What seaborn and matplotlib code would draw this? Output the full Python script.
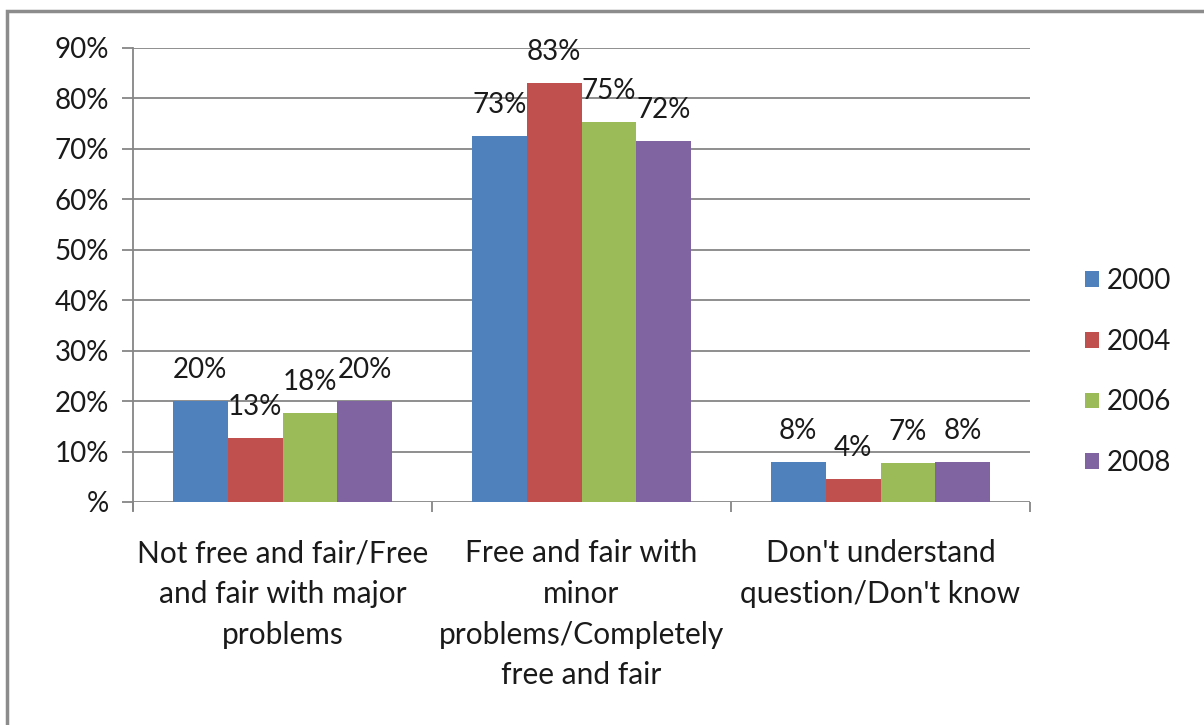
import pandas as pd
import matplotlib.pyplot as plt
import seaborn as sns
from matplotlib.patches import Rectangle

categories = ["Not free and fair/Free\nand fair with major\nproblems",
              "Free and fair with\nminor\nproblems/Completely\nfree and fair",
              "Don't understand\nquestion/Don't know"]
years = ["2000", "2004", "2006", "2008"]
v2000 = [20.0, 72.6, 8.0]
v2004 = [12.7, 83.1, 4.6]
v2006 = [17.6, 75.3, 7.8]
v2008 = [20.0, 71.6, 8.0]
lab2000 = ["20%", "73%", "8%"]
lab2004 = ["13%", "83%", "4%"]
lab2006 = ["18%", "75%", "7%"]
lab2008 = ["20%", "72%", "8%"]
yticks = [0, 10, 20, 30, 40, 50, 60, 70, 80, 90]
ytick_labels = ["%", "10%", "20%", "30%", "40%", "50%", "60%", "70%", "80%", "90%"]
colors = ["#4F81BD", "#C0504D", "#9BBB59", "#8064A2"]

rows = []
for yr, vals in zip(years, [v2000, v2004, v2006, v2008]):
    for c, v in zip(categories, vals):
        rows.append({"cat": c, "year": yr, "val": v})
df = pd.DataFrame(rows)

sns.set_style("white")
plt.rcParams['font.family'] = ['Lato', 'DejaVu Sans']
fs = 20
txt = "#1a1a1a"

fig = plt.figure(figsize=(12.04, 7.25), dpi=100)
ax = fig.add_axes([133/1204, 1-502/725, 897/1204, 454/725])

sns.barplot(data=df, x="cat", y="val", hue="year", palette=colors, width=0.733,
            dodge=True, gap=0, saturation=1, ax=ax, linewidth=0)

for cont, labs in zip(ax.containers, [lab2000, lab2004, lab2006, lab2008]):
    ax.bar_label(cont, labels=labs, padding=13, fontsize=fs, color=txt)

ax.set_ylim(0, 90)
ax.set_xlim(-0.5, 2.5)
ax.set_yticks(yticks)
ax.set_yticklabels(ytick_labels, fontsize=fs, color=txt)
ax.yaxis.grid(True, color="#868686", linewidth=1.3)
ax.set_axisbelow(True)
ax.tick_params(axis="y", direction="out", length=8, width=1.3, color="#868686", pad=9, left=True)

ax.set_xticks([0, 1, 2])
ax.set_xticklabels(categories, fontsize=21.5, color=txt, linespacing=1.55, va="top")
ax.set_xticks([-0.5, 0.5, 1.5, 2.5], minor=True)
ax.tick_params(axis="x", which="major", length=0, pad=27)
ax.tick_params(axis="x", which="minor", direction="out", length=7, width=1.3, color="#868686", bottom=True)

for s in ["top", "right", "bottom"]:
    ax.spines[s].set_visible(False)
ax.spines["left"].set_color("#868686")
ax.spines["left"].set_linewidth(1.3)
ax.spines["left"].set_bounds(-1.5, 90)
ax.set_xlabel("")
ax.set_ylabel("")

leg = ax.legend(title=None, frameon=False, fontsize=fs, loc="center left",
                bbox_to_anchor=(1060/1204, 1-372/725), bbox_transform=fig.transFigure,
                handlelength=0.5, handleheight=0.5, handletextpad=0.3, labelspacing=1.25)
for t in leg.get_texts():
    t.set_color(txt)

fig.patches.append(Rectangle((7/1204, -0.1), 1.2, 1-11/725+0.1, transform=fig.transFigure,
                             fill=False, edgecolor="#8c8c8c", linewidth=2.5))

fig.savefig("out.png", dpi=100)
